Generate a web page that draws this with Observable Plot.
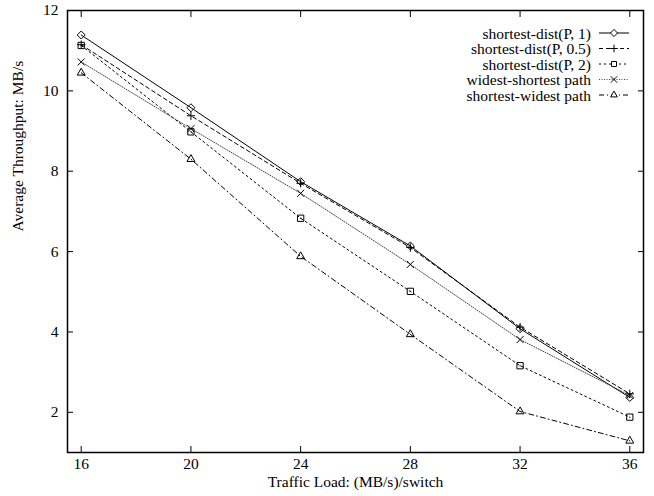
<!DOCTYPE html>
<html>
<head>
<meta charset="utf-8">
<script src="https://cdn.jsdelivr.net/npm/d3@7"></script>
<script src="https://cdn.jsdelivr.net/npm/@observablehq/plot@0.6"></script>
<style>
  html, body { margin: 0; padding: 0; background: #fff; }
  #chart { position: relative; width: 654px; height: 496px; }
</style>
</head>
<body>
<div id="chart"></div>
<script>
// Traffic load per switch (MB/s) on the x axis
const loads = [16, 20, 24, 28, 32, 36];

// Average throughput (MB/s) for each routing scheme
const shortestDistP1   = [11.39, 9.58, 7.74, 6.14, 4.08, 2.37];
const shortestDistP05  = [11.15, 9.38, 7.70, 6.10, 4.12, 2.46];
const shortestDistP2   = [11.13, 8.98, 6.83, 5.01, 3.16, 1.88];
const widestShortest   = [10.72, 9.06, 7.45, 5.68, 3.81, 2.42];
const shortestWidest   = [10.45, 8.30, 5.88, 3.94, 2.02, 1.29];

const seriesNames = [
  "shortest-dist(P, 1)",
  "shortest-dist(P, 0.5)",
  "shortest-dist(P, 2)",
  "widest-shortest path",
  "shortest-widest path"
];
const seriesValues = [shortestDistP1, shortestDistP05, shortestDistP2, widestShortest, shortestWidest];

const xTicks = [16, 20, 24, 28, 32, 36];
const yTicks = [2, 4, 6, 8, 10, 12];

const FONT = "'Liberation Serif', 'Times New Roman', serif";
const FS = 15.5;

// line style and point symbol per series
const styles = [
  {dash: null,      stroke: "#000", symbol: "diamond2",  r: 3.6, lr: 3.2},
  {dash: "4,3",     stroke: "#000", symbol: "plus",      r: 2.8, lr: 2.6},
  {dash: "2,3",     stroke: "#000", symbol: "square2",   r: 4.0, lr: 3.2},
  {dash: "1,1.5",   stroke: "#444", symbol: "times",     r: 3.3, lr: 3.0},
  {dash: "5,3,1,3", stroke: "#000", symbol: "triangle2", r: 3.8, lr: 3.2}
];

const rows = seriesNames.flatMap((name, i) =>
  loads.map((x, j) => ({series: name, idx: i, x, y: seriesValues[i][j]}))
);

const lineMarks = seriesNames.map((name, i) =>
  Plot.line(rows.filter(d => d.idx === i), {
    x: "x", y: "y",
    stroke: styles[i].stroke, strokeWidth: 1,
    strokeDasharray: styles[i].dash
  })
);
const dotMarks = seriesNames.map((name, i) =>
  Plot.dot(rows.filter(d => d.idx === i), {
    x: "x", y: "y",
    symbol: () => styles[i].symbol, r: styles[i].r,
    stroke: "#000", strokeWidth: 1, fill: "none"
  })
);
// small centre point inside the square markers
const squareCentres = Plot.dot(rows.filter(d => d.idx === 2), {x: "x", y: "y", r: 0.7, fill: "#000"});

const plot = Plot.plot({
  width: 654,
  height: 496,
  marginLeft: 67,
  marginRight: 11,
  marginTop: 10,
  marginBottom: 44,
  style: {fontFamily: FONT, fontSize: FS + "px", color: "#000", background: "#fff"},
  x: {domain: [15.5, 36.5]},
  y: {domain: [1, 12]},
  symbol: {type: "identity"},
  marks: [
    // tick labels
    Plot.axisX(xTicks, {anchor: "bottom", tickSize: 0, tickPadding: 5, label: null, fontSize: FS}),
    Plot.axisY(yTicks, {anchor: "left", tickSize: 0, tickPadding: 9, label: null, fontSize: FS}),
    // inward tick marks on all four sides
    Plot.axisX(xTicks, {anchor: "bottom", tickSize: -6, tickFormat: () => "", label: null}),
    Plot.axisX(xTicks, {anchor: "top", tickSize: -6, tickFormat: () => "", label: null}),
    Plot.axisY(yTicks, {anchor: "left", tickSize: -6, tickFormat: () => "", label: null}),
    Plot.axisY(yTicks, {anchor: "right", tickSize: -6, tickFormat: () => "", label: null}),
    ...lineMarks,
    ...dotMarks,
    squareCentres,
    Plot.frame({stroke: "#000", strokeWidth: 1.5}),
    Plot.text(["Traffic Load: (MB/s)/switch"], {frameAnchor: "bottom", dy: 34, fontSize: FS}),
    Plot.text(["Average Throughput: MB/s"], {frameAnchor: "left", dx: -49, rotate: -90, fontSize: FS})
  ]
});

document.getElementById("chart").appendChild(plot);

// legend in the upper-right corner of the frame
const svg = d3.select(plot);
const legend = svg.append("g")
  .attr("font-family", FONT)
  .attr("font-size", FS);
const symbolTypes = {
  diamond2: d3.symbolDiamond2, plus: d3.symbolPlus, square2: d3.symbolSquare2,
  times: d3.symbolTimes, triangle2: d3.symbolTriangle2
};
seriesNames.forEach((name, i) => {
  const yy = 33 + i * 15.5;
  legend.append("text")
    .attr("x", 591).attr("y", yy)
    .attr("text-anchor", "end")
    .attr("dominant-baseline", "central")
    .attr("fill", "#000")
    .text(name);
  legend.append("line")
    .attr("x1", 599).attr("x2", 629)
    .attr("y1", yy).attr("y2", yy)
    .attr("stroke", styles[i].stroke)
    .attr("stroke-width", 1)
    .attr("stroke-dasharray", styles[i].dash);
  const r = styles[i].lr;
  legend.append("path")
    .attr("transform", `translate(614,${yy})`)
    .attr("d", d3.symbol(symbolTypes[styles[i].symbol], Math.PI * r * r)())
    .attr("fill", "#fff")
    .attr("stroke", "#000")
    .attr("stroke-width", 1);
});
</script>
</body>
</html>
